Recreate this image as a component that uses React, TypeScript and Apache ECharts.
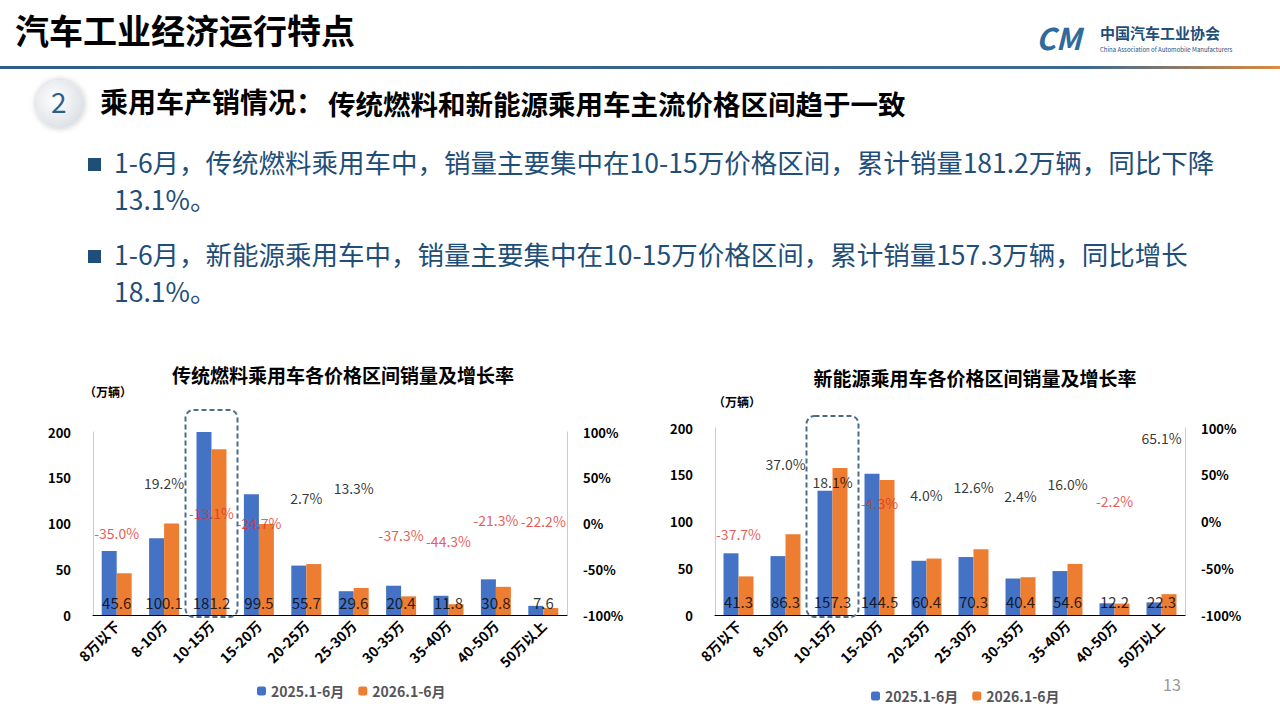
import React, { useEffect, useRef } from "react";
import * as echarts from "echarts";

const categories = ["8万以下", "8-10万", "10-15万", "15-20万", "20-25万", "25-30万", "30-35万", "35-40万", "40-50万", "50万以上"];
const iceSales2025 = [70, 84, 200, 132, 54, 26, 32, 21, 39, 10];
const iceSales2026 = [45.6, 100.1, 181.2, 99.5, 55.7, 29.6, 20.4, 11.8, 30.8, 7.6];
const iceGrowth = [-35.0, 19.2, -13.1, -24.7, 2.7, 13.3, -37.3, -44.3, -21.3, -22.2];
const nevSales2025 = [66, 63, 133, 151, 58, 62, 39, 47, 12.5, 13.5];
const nevSales2026 = [41.3, 86.3, 157.3, 144.5, 60.4, 70.3, 40.4, 54.6, 12.2, 22.3];
const nevGrowth = [-37.7, 37.0, 18.1, -4.3, 4.0, 12.6, 2.4, 16.0, -2.2, 65.1];

const FONT = "'Noto Sans CJK SC', 'Microsoft YaHei', sans-serif";
const BLUE = "#4472C4";
const ORANGE = "#ED7D31";
const TEXTBLUE = "#1F4E79";

export default function App() {
  const ref = useRef<HTMLDivElement>(null);
  useEffect(() => {
    document.body.style.margin = "0";
    const chart = echarts.init(ref.current!, null, { renderer: "svg" });
    const grids = [
      { left: 93, right: 713, top: 432, bottom: 104 },
      { left: 715, right: 95, top: 428, bottom: 104 },
    ];
    const xAxes: any[] = [];
    const yAxes: any[] = [];
    const series: any[] = [];
    const sets = [
      [iceSales2025, iceSales2026, iceGrowth],
      [nevSales2025, nevSales2026, nevGrowth],
    ];
    sets.forEach(([a, b, g], i) => {
      xAxes.push({
        type: "category", gridIndex: i, data: categories,
        axisLine: { lineStyle: { color: "#000" } }, axisTick: { show: false },
        axisLabel: { rotate: 45, fontSize: 14, fontWeight: "bold", color: "#000", fontFamily: FONT, margin: 8 },
      });
      yAxes.push({
        type: "value", gridIndex: i, min: 0, max: 200, interval: 50,
        axisLine: { show: true, lineStyle: { color: "#ccc" } }, splitLine: { show: false },
        axisLabel: { fontSize: 13, fontWeight: "bold", color: "#000", fontFamily: FONT, margin: 22 },
      });
      yAxes.push({
        type: "value", gridIndex: i, min: -100, max: 100, interval: 50, position: "right",
        axisLine: { show: true, lineStyle: { color: "#ccc" } }, splitLine: { show: false },
        axisLabel: { fontSize: 13, fontWeight: "bold", color: "#000", fontFamily: FONT, formatter: "{value}%", margin: 16 },
      });
      series.push({ type: "bar", name: "2025.1-6月", xAxisIndex: i, yAxisIndex: i * 2, data: a, barWidth: 15, barGap: "0%", itemStyle: { color: BLUE } });
      series.push({ type: "bar", name: "2026.1-6月", xAxisIndex: i, yAxisIndex: i * 2, data: b, barWidth: 15, barGap: "0%", itemStyle: { color: ORANGE } });
      series.push({
        type: "scatter", xAxisIndex: i, yAxisIndex: i * 2, symbolSize: 0, silent: true,
        data: b.map(() => 14),
        label: { show: true, position: "inside", fontSize: 15, color: "#000", fontFamily: FONT, formatter: (p: any) => b[p.dataIndex].toFixed(1) },
      });
      series.push({
        type: "scatter", xAxisIndex: i, yAxisIndex: i * 2 + 1, symbolSize: 0, silent: true,
        data: g.map((v) => ({ value: v, label: { color: v < 0 ? "#E0312B" : "#000" } })),
        label: {
          show: true, position: "top", distance: 16, fontSize: 14, fontFamily: FONT,
          formatter: (p: any) => g[p.dataIndex].toFixed(1) + "%",
        },
      });
    });

    const T = (text: string, x: number, y: number, fontSize: number, extra: any = {}) => ({
      type: "text", x, y, style: { text, fontSize, fontFamily: FONT, fill: "#000", ...extra },
    });

    const graphic: any[] = [
      T("汽车工业经济运行特点", 15, 12, 34, { fontWeight: "bold" }),
      { type: "rect", shape: { x: 0, y: 66, width: 1280, height: 3 },
        style: { fill: new echarts.graphic.LinearGradient(0, 0, 1, 0, [{ offset: 0, color: "#2E5F8A" }, { offset: 0.85, color: "#3E6A90" }, { offset: 1, color: "#E08A3C" }]) } },
      T("CM", 1036, 22, 30, { fontWeight: "bold", fontStyle: "italic", fill: "#2E6A9A" }),
      T("中国汽车工业协会", 1100, 25, 15, { fontWeight: "bold", fill: TEXTBLUE }),
      T("China Association of Automobile Manufacturers", 1100, 46, 6, { fill: TEXTBLUE }),
      { type: "circle", shape: { cx: 60, cy: 104, r: 24 },
        style: { fill: new echarts.graphic.RadialGradient(0.4, 0.4, 0.7, [{ offset: 0, color: "#ffffff" }, { offset: 1, color: "#d8dde3" }]), shadowBlur: 6, shadowColor: "rgba(0,0,0,0.25)" } },
      T("2", 51, 87, 28, { fill: "#2E5F8A" }),
      T("乘用车产销情况：", 100, 87, 28, { fontWeight: "bold" }),
      T("传统燃料和新能源乘用车主流价格区间趋于一致", 328, 89, 27.5, { fontWeight: "bold" }),
      { type: "rect", shape: { x: 88, y: 158, width: 13, height: 13 }, style: { fill: TEXTBLUE } },
      T("1-6月，传统燃料乘用车中，销量主要集中在10-15万价格区间，累计销量181.2万辆，同比下降", 114, 148, 26.5, { fill: TEXTBLUE }),
      T("13.1%。", 114, 185, 26.5, { fill: TEXTBLUE }),
      { type: "rect", shape: { x: 88, y: 250, width: 13, height: 13 }, style: { fill: TEXTBLUE } },
      T("1-6月，新能源乘用车中，销量主要集中在10-15万价格区间，累计销量157.3万辆，同比增长", 114, 240, 26.5, { fill: TEXTBLUE }),
      T("18.1%。", 114, 277, 26.5, { fill: TEXTBLUE }),
      T("传统燃料乘用车各价格区间销量及增长率", 343, 365, 19, { fontWeight: "bold", align: "center" }),
      T("新能源乘用车各价格区间销量及增长率", 975, 368, 19, { fontWeight: "bold", align: "center" }),
      T("（万辆）", 84, 385, 12, { fontWeight: "bold" }),
      T("（万辆）", 713, 395, 12, { fontWeight: "bold" }),
      T("13", 1163, 676, 16, { fill: "#999" }),
    ];

    chart.setOption({
      animation: false,
      textStyle: { fontFamily: FONT },
      grid: grids,
      xAxis: xAxes,
      yAxis: yAxes,
      series,
      legend: [
        { data: ["2025.1-6月", "2026.1-6月"], left: 252, top: 679, itemWidth: 9, itemHeight: 9, itemGap: 14, textStyle: { fontSize: 14, fontWeight: "bold", fontFamily: FONT } },
        { data: ["2025.1-6月", "2026.1-6月"], left: 866, top: 684, itemWidth: 9, itemHeight: 9, itemGap: 14, textStyle: { fontSize: 14, fontWeight: "bold", fontFamily: FONT } },
      ],
      graphic,
    });

    const boxes: any[] = [];
    [0, 1].forEach((i) => {
      const cx = chart.convertToPixel({ xAxisIndex: i } as any, "10-15万") as number;
      const top = i === 0 ? 410 : 416;
      boxes.push({ type: "rect", shape: { x: cx - 26, y: top, width: 52, height: 617 - top, r: 8 },
        style: { fill: "none", stroke: "#4A6E8C", lineWidth: 2, lineDash: [5, 3] }, z: 100 });
    });
    chart.setOption({ graphic: [...graphic, ...boxes] });

    return () => chart.dispose();
  }, []);
  return <div ref={ref} style={{ width: 1280, height: 719 }} />;
}
